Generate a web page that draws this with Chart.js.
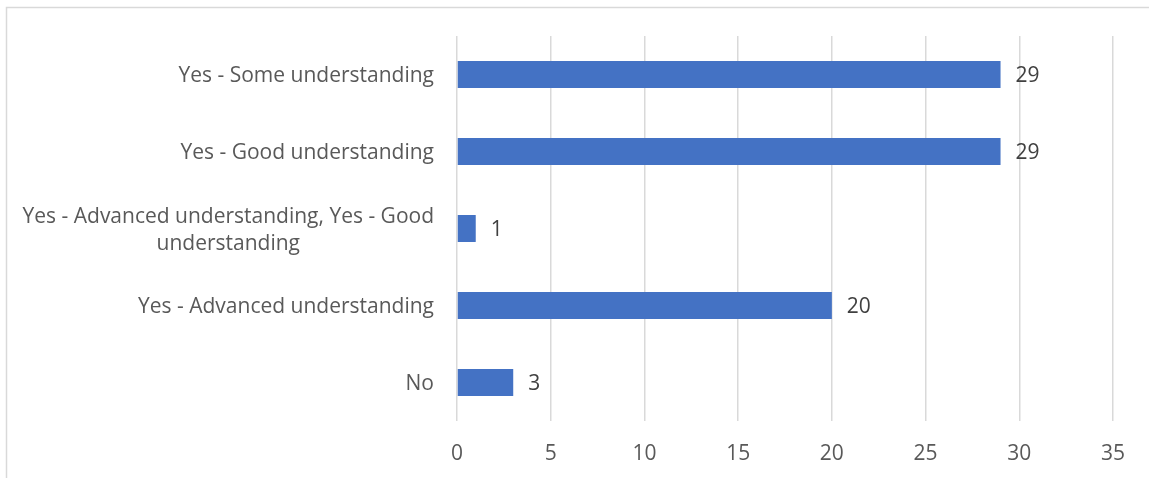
<!DOCTYPE html>
<html>
<head>
<meta charset="utf-8">
<script src="https://cdn.jsdelivr.net/npm/chart.js@4"></script>
<style>
  html, body { margin: 0; padding: 0; background: #fff; }
  #wrap { position: relative; width: 1149px; height: 478px; }
</style>
</head>
<body>
<div id="wrap"><canvas id="chart" width="1149" height="478"></canvas></div>
<script>
// survey answers, top to bottom
const categories = [
  'Yes - Some understanding',
  'Yes - Good understanding',
  ['Yes - Advanced understanding, Yes - Good', 'understanding'],
  'Yes - Advanced understanding',
  'No',
];
const counts = [29, 29, 1, 20, 3];
const xTicks = [0, 5, 10, 15, 20, 25, 30, 35];

const FONT = 'Open Sans, sans-serif';
const FONT_SIZE = 21;
const TEXT_NUDGE = 2; // Open Sans sits a bit high on 'middle'

// light frame along top and left edges
const framePlugin = {
  id: 'frame',
  beforeDraw(chart) {
    const ctx = chart.ctx;
    ctx.save();
    ctx.strokeStyle = '#d9d9d9';
    ctx.lineWidth = 1.5;
    ctx.beginPath();
    ctx.moveTo(6.5, chart.height);
    ctx.lineTo(6.5, 7.5);
    ctx.lineTo(chart.width, 7.5);
    ctx.stroke();
    ctx.restore();
  },
};

// category labels: right edge fixed, wrapped lines centred on each other
const catLabels = {
  id: 'catLabels',
  afterDraw(chart) {
    const ctx = chart.ctx;
    const y = chart.scales.y;
    const right = chart.chartArea.left - 23;
    const lh = 27;
    ctx.save();
    ctx.font = FONT_SIZE + 'px ' + FONT;
    ctx.fillStyle = '#595959';
    ctx.textAlign = 'center';
    ctx.textBaseline = 'middle';
    categories.forEach((c, i) => {
      const lines = Array.isArray(c) ? c : [c];
      const w = Math.max(...lines.map(l => ctx.measureText(l).width));
      const cy = y.getPixelForValue(i) + TEXT_NUDGE;
      const y0 = cy - (lines.length - 1) * lh / 2;
      lines.forEach((l, j) => ctx.fillText(l, right - w / 2, y0 + j * lh));
    });
    ctx.restore();
  },
};

// value labels after each bar
const valueLabels = {
  id: 'valueLabels',
  afterDatasetsDraw(chart) {
    const ctx = chart.ctx;
    const meta = chart.getDatasetMeta(0);
    ctx.save();
    ctx.font = FONT_SIZE + 'px ' + FONT;
    ctx.fillStyle = '#404040';
    ctx.textAlign = 'left';
    ctx.textBaseline = 'middle';
    meta.data.forEach((bar, i) => {
      ctx.fillText(String(counts[i]), bar.x + 15, bar.y + TEXT_NUDGE);
    });
    ctx.restore();
  },
};

new Chart(document.getElementById('chart'), {
  type: 'bar',
  data: {
    labels: categories.map(c => Array.isArray(c) ? c.join(' ') : c),
    datasets: [{
      data: counts,
      backgroundColor: '#4472c4',
      borderWidth: 0,
      barPercentage: 1,
      categoryPercentage: 0.35,
    }],
  },
  options: {
    indexAxis: 'y',
    responsive: false,
    animation: false,
    layout: { padding: { top: 36, right: 36, left: 0, bottom: 0 } },
    plugins: {
      legend: { display: false },
      tooltip: { enabled: false },
    },
    scales: {
      x: {
        min: 0,
        max: 35,
        afterBuildTicks(scale) {
          scale.ticks = xTicks.map(v => ({ value: v }));
        },
        afterFit(scale) { scale.height = 57; },
        grid: { color: '#d9d9d9', lineWidth: 1.5, drawTicks: false },
        border: { display: false },
        ticks: {
          color: '#595959',
          font: { family: FONT, size: FONT_SIZE },
          padding: 20,
          maxRotation: 0,
        },
      },
      y: {
        afterFit(scale) { scale.width = 457; },
        grid: { display: false },
        border: { display: false },
        ticks: { display: false },
      },
    },
  },
  plugins: [framePlugin, catLabels, valueLabels],
});
</script>
</body>
</html>
